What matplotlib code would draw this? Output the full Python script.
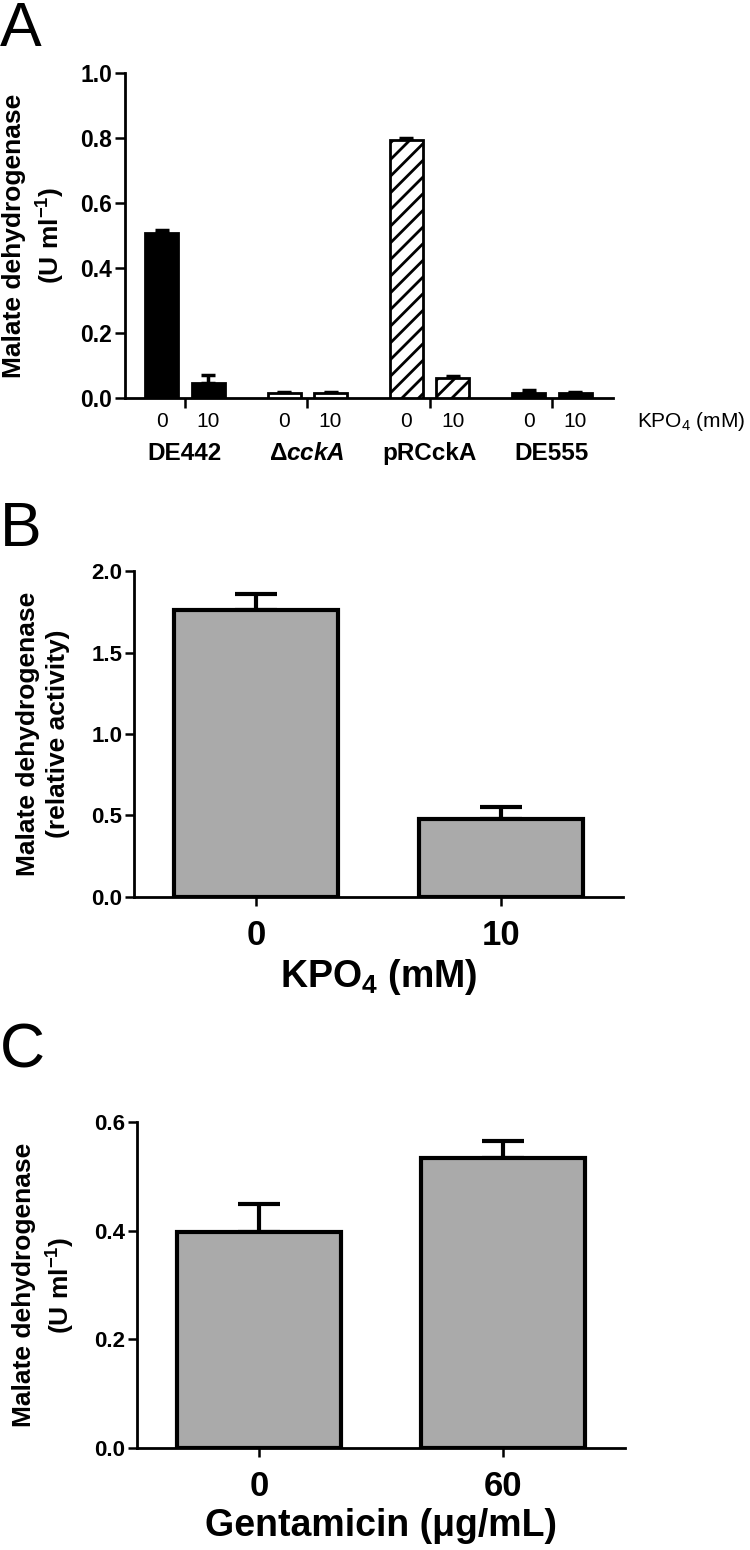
import matplotlib
matplotlib.use("Agg")
import matplotlib.pyplot as plt
import numpy as np

plt.rcParams["font.family"] = ["Liberation Sans", "DejaVu Sans"]
plt.rcParams["mathtext.fontset"] = "custom"
plt.rcParams["mathtext.default"] = "regular"
plt.rcParams["mathtext.it"] = "Liberation Sans:italic:bold"
plt.rcParams["hatch.linewidth"] = 2.0

# panel A data
strains = ["DE442", "Δ$\\it{cckA}$", "pRCckA", "DE555"]
kpo4_levels = ["0", "10"]
a_means = [[0.508, 0.046], [0.015, 0.015], [0.794, 0.062], [0.015, 0.014]]
a_errs = [[0.010, 0.026], [0.003, 0.003], [0.006, 0.005], [0.011, 0.006]]
a_fill = ["black", "white", "white", "black"]
a_hatch = [None, None, "//", None]

# panel B data
b_labels = ["0", "10"]
b_means = [1.76, 0.478]
b_errs = [0.10, 0.074]

# panel C data
c_labels = ["0", "60"]
c_means = [0.397, 0.533]
c_errs = [0.052, 0.033]

GRAY = "#aaaaaa"
YLAB = "Malate dehydrogenase"


def style_axes(ax, ticklen, tickpad):
    for side in ["top", "right"]:
        ax.spines[side].set_visible(False)
    for side in ["left", "bottom"]:
        ax.spines[side].set_linewidth(2.0)
    ax.tick_params(axis="y", direction="out", length=ticklen, width=1.8,
                   pad=tickpad)
    ax.tick_params(axis="x", direction="out", length=ticklen, width=1.8)


fig = plt.figure(figsize=(7.5, 15.5), dpi=100)

# ---------- A ----------
ax = fig.add_axes([0.1667, 0.7432, 0.6507, 0.2097])
style_axes(ax, 7.2, 2.0)
off = 0.19
groups = np.arange(len(strains))
for g in groups:
    xs = [g - off, g + off]
    ax.bar(xs, a_means[g], width=0.27, color=a_fill[g], edgecolor="black",
           linewidth=2.0, hatch=a_hatch[g], zorder=3)
    ax.errorbar(xs, a_means[g], yerr=[[0, 0], a_errs[g]], fmt="none",
                ecolor="black", elinewidth=2.5, capsize=5, capthick=2.5,
                zorder=2)
    for x, lab in zip(xs, kpo4_levels):
        ax.annotate(lab, xy=(x, 0), xycoords=("data", "axes fraction"),
                    xytext=(0, -23), textcoords="offset pixels",
                    ha="center", va="center", fontsize=15)
    ax.annotate(strains[g], xy=(g, 0), xycoords=("data", "axes fraction"),
                xytext=(0, -55), textcoords="offset pixels",
                ha="center", va="center", fontsize=17.5, fontweight="bold")
ax.annotate("KPO$_4$ (mM)", xy=(1, 0), xycoords="axes fraction",
            xytext=(24, -23), textcoords="offset pixels",
            ha="left", va="center", fontsize=15)
ax.set_xlim(-0.49, 3.5)
ax.set_ylim(0, 1.0)
ax.set_yticks([0, 0.2, 0.4, 0.6, 0.8, 1.0])
ax.set_yticklabels([f"{v:.1f}" for v in [0, 0.2, 0.4, 0.6, 0.8, 1.0]],
                   fontsize=16.5, fontweight="bold")
ax.set_xticks(groups + 0.0)
ax.set_xticklabels([])
ax.text(-0.185, 0.5, YLAB + "\n(U ml$^{-1}$)", transform=ax.transAxes,
        rotation=90, ha="center", va="center", fontsize=19,
        fontweight="bold", linespacing=1.35)
fig.text(0.0, 1.0, "A", fontsize=45, ha="left", va="top")

# ---------- B ----------
ax = fig.add_axes([0.1787, 0.4213, 0.652, 0.2103])
style_axes(ax, 6.5, 2.0)
xb = np.arange(len(b_labels))
ax.bar(xb, b_means, width=0.67, color=GRAY, edgecolor="black",
       linewidth=3.0, zorder=3)
ax.errorbar(xb, b_means, yerr=[[0, 0], b_errs], fmt="none", ecolor="black",
            elinewidth=3.0, capsize=15, capthick=3.0, zorder=2)
ax.set_xlim(-0.5, 1.5)
ax.set_ylim(0, 2.0)
ax.set_yticks([0, 0.5, 1.0, 1.5, 2.0])
ax.set_yticklabels([f"{v:.1f}" for v in [0, 0.5, 1.0, 1.5, 2.0]],
                   fontsize=16, fontweight="bold")
ax.set_xticks(xb)
ax.set_xticklabels(b_labels, fontsize=25, fontweight="bold")
ax.tick_params(axis="x", pad=9)
ax.set_xlabel("KPO$_4$ (mM)", fontsize=27, fontweight="bold", labelpad=4)
ax.text(-0.186, 0.5, YLAB + "\n(relative activity)", transform=ax.transAxes,
        rotation=90, ha="center", va="center", fontsize=19,
        fontweight="bold", linespacing=1.35)
fig.text(0.0, 1 - 500 / 1550, "B", fontsize=45, ha="left", va="top")

# ---------- C ----------
ax = fig.add_axes([0.1827, 0.0658, 0.6507, 0.2103])
style_axes(ax, 6.5, 2.0)
xc = np.arange(len(c_labels))
ax.bar(xc, c_means, width=0.67, color=GRAY, edgecolor="black",
       linewidth=3.0, zorder=3)
ax.errorbar(xc, c_means, yerr=[[0, 0], c_errs], fmt="none", ecolor="black",
            elinewidth=3.0, capsize=15, capthick=3.0, zorder=2)
ax.set_xlim(-0.5, 1.5)
ax.set_ylim(0, 0.6)
ax.set_yticks([0, 0.2, 0.4, 0.6])
ax.set_yticklabels([f"{v:.1f}" for v in [0, 0.2, 0.4, 0.6]],
                   fontsize=16, fontweight="bold")
ax.set_xticks(xc)
ax.set_xticklabels(c_labels, fontsize=25, fontweight="bold")
ax.tick_params(axis="x", pad=9)
ax.set_xlabel("Gentamicin (μg/mL)", fontsize=27, fontweight="bold",
              labelpad=4)
ax.text(-0.19, 0.5, YLAB + "\n(U ml$^{-1}$)", transform=ax.transAxes,
        rotation=90, ha="center", va="center", fontsize=19,
        fontweight="bold", linespacing=1.35)
fig.text(0.0, 1 - 1022 / 1550, "C", fontsize=45, ha="left", va="top")

fig.savefig("out.png", dpi=100)
